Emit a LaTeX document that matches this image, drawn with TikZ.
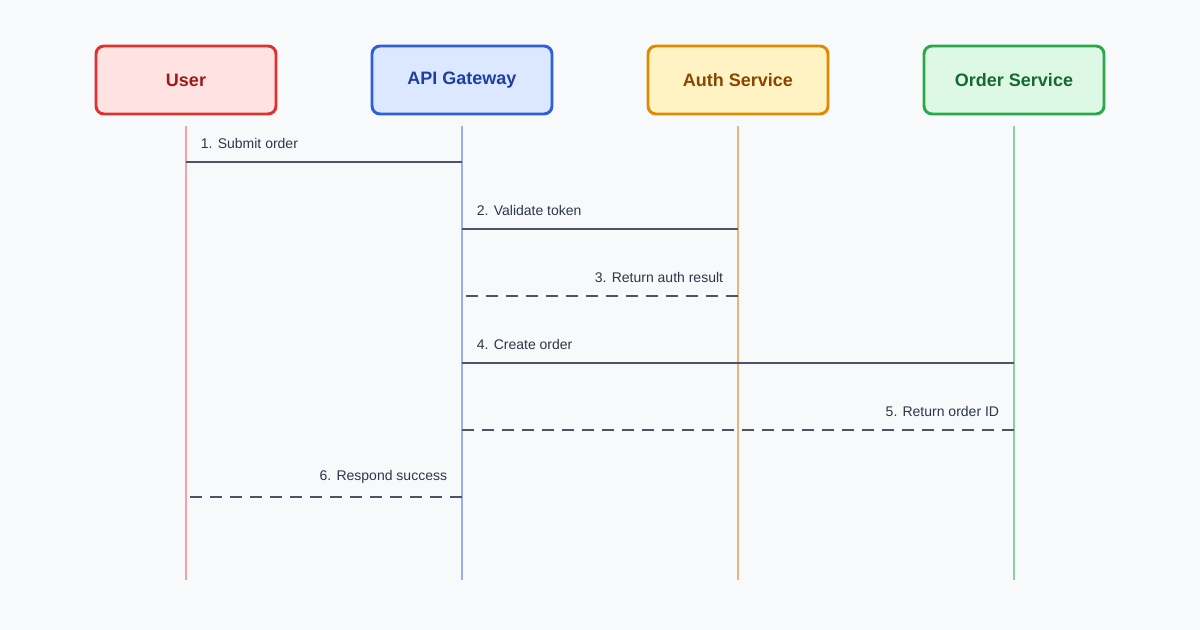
\documentclass[tikz,border=0pt]{standalone}
\usepackage{fontspec}
\setmainfont{Liberation Sans}
\usetikzlibrary{positioning}
\definecolor{bgc}{HTML}{F8F9FB}
\definecolor{msgc}{HTML}{4A5568}
\definecolor{txtc}{HTML}{2D3748}
\definecolor{userf}{HTML}{FFE3E3}\definecolor{userd}{HTML}{E03131}\definecolor{usert}{HTML}{A01818}\definecolor{userl}{HTML}{F2A3A3}
\definecolor{apif}{HTML}{DBE8FF}\definecolor{apid}{HTML}{2F5FD9}\definecolor{apit}{HTML}{1E3FA0}\definecolor{apil}{HTML}{95B2EE}
\definecolor{authf}{HTML}{FFF3C4}\definecolor{authd}{HTML}{E08A00}\definecolor{autht}{HTML}{8A4500}\definecolor{authl}{HTML}{E8B57C}
\definecolor{ordf}{HTML}{DDF8E5}\definecolor{ordd}{HTML}{2BA84A}\definecolor{ordt}{HTML}{16692F}\definecolor{ordl}{HTML}{8CCFA0}
\tikzset{
  actor/.style n args={3}{draw=#2, fill=#1, text=#3, line width=2.2pt, rounded corners=6pt,
    minimum width=135pt, minimum height=51pt, font=\fontsize{13.5}{16}\selectfont\bfseries},
  life/.style={line width=2.2pt, draw=#1},
  msg/.style={draw=msgc, line width=1.4pt},
  ret/.style={msg, dash pattern=on 9pt off 6pt},
  lbl/.style={text=txtc, font=\fontsize{10.5}{12}\selectfont, inner sep=0pt}
}
\begin{document}
\begin{tikzpicture}[x=0.75pt,y=-0.75pt]
\fill[bgc] (0,0) rectangle (1200,630);
\useasboundingbox (0,0) rectangle (1200,630);

\node[actor={userf}{userd}{usert}] (user) at (186,80) {User};
\node[actor={apif}{apid}{apit}] (api) at (462,80) {API Gateway};
\node[actor={authf}{authd}{autht}] (auth) at (738,80) {Auth Service};
\node[actor={ordf}{ordd}{ordt}] (order) at (1014,80) {Order Service};

% lifelines
\foreach \a/\c in {user/userl,api/apil,auth/authl,order/ordl} {
  \coordinate (\a top) at (\a.center |- 0,126);
  \coordinate (\a bot) at (\a.center |- 0,580);
  \draw[life=\c] (\a top) -- (\a bot);
}

% messages
\coordinate (m1a) at (186,162); \coordinate (m1b) at (462,162);
\coordinate (m2a) at (462,229); \coordinate (m2b) at (738,229);
\coordinate (m3a) at (462,296); \coordinate (m3b) at (738,296);
\coordinate (m4a) at (462,363); \coordinate (m4b) at (1014,363);
\coordinate (m5a) at (462,430); \coordinate (m5b) at (1014,430);
\coordinate (m6a) at (186,497); \coordinate (m6b) at (462,497);

\draw[msg] (m1a) -- (m1b);
\draw[msg] (m2a) -- (m2b);
\draw[ret] (m3b) -- (m3a);
\draw[msg] (m4a) -- (m4b);
\draw[ret] (m5b) -- (m5a);
\draw[ret] (m6b) -- (m6a);

\node[lbl, above right=10pt and 11pt] (l1) at (m1a) {1. Submit order};
\node[lbl, above right=10pt and 11pt] (l2) at (m2a) {2. Validate token};
\node[lbl, above left=10pt and 11pt] (l3) at (m3b) {3. Return auth result};
\node[lbl, above right=10pt and 11pt] (l4) at (m4a) {4. Create order};
\node[lbl, above left=10pt and 11pt] (l5) at (m5b) {5. Return order ID};
\node[lbl, above left=10pt and 11pt] (l6) at (m6b) {6. Respond success};
\end{tikzpicture}
\end{document}
